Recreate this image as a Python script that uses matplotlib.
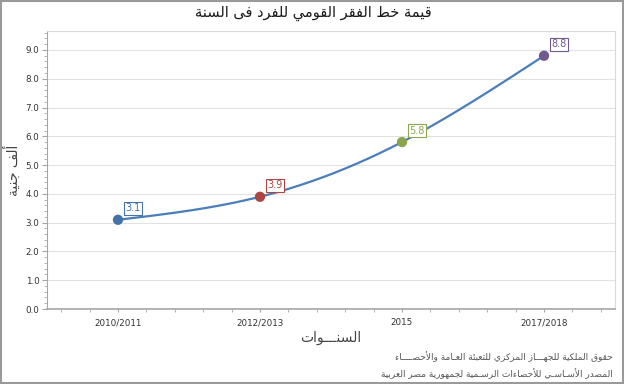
import numpy as np
import matplotlib
matplotlib.use('Agg')
import matplotlib.pyplot as plt
from matplotlib.patches import Rectangle
from matplotlib.ticker import MultipleLocator, FormatStrFormatter

# بيانات الرسم
years = ['2010/2011', '2012/2013', '2015', '2017/2018']
values = [3.1, 3.9, 5.8, 8.8]
point_colors = ['#4572a7', '#aa4643', '#89a54e', '#71588f']

title = 'قيمة خط الفقر القومي للفرد فى السنة'
y_title = 'ألف جنية'
x_title = 'السنـــوات'
footer = ['حقوق الملكية للجهـــاز المركزي للتعبئة العـامة والأحصــــاء',
          'المصدر الأسـاسـي للأحصاءات الرسـمية لجمهورية مصر العربية']

# matplotlib does not shape Arabic, so letters are joined by hand
# letter: (first presentation form, number of forms)
FORMS = {
    'ء': (0xFE80, 1), 'آ': (0xFE81, 2), 'أ': (0xFE83, 2), 'ؤ': (0xFE85, 2),
    'إ': (0xFE87, 2), 'ئ': (0xFE89, 4), 'ا': (0xFE8D, 2), 'ب': (0xFE8F, 4),
    'ة': (0xFE93, 2), 'ت': (0xFE95, 4), 'ث': (0xFE99, 4), 'ج': (0xFE9D, 4),
    'ح': (0xFEA1, 4), 'خ': (0xFEA5, 4), 'د': (0xFEA9, 2), 'ذ': (0xFEAB, 2),
    'ر': (0xFEAD, 2), 'ز': (0xFEAF, 2), 'س': (0xFEB1, 4), 'ش': (0xFEB5, 4),
    'ص': (0xFEB9, 4), 'ض': (0xFEBD, 4), 'ط': (0xFEC1, 4), 'ظ': (0xFEC5, 4),
    'ع': (0xFEC9, 4), 'غ': (0xFECD, 4), 'ف': (0xFED1, 4), 'ق': (0xFED5, 4),
    'ك': (0xFED9, 4), 'ل': (0xFEDD, 4), 'م': (0xFEE1, 4), 'ن': (0xFEE5, 4),
    'ه': (0xFEE9, 4), 'و': (0xFEED, 2), 'ى': (0xFEEF, 2), 'ي': (0xFEF1, 4),
}
LAM_ALEF = {'آ': 0xFEF5, 'أ': 0xFEF7, 'إ': 0xFEF9, 'ا': 0xFEFB}
TATWEEL = 'ـ'


def arabic(text):
    out = []
    prev_joins = False
    i = 0
    while i < len(text):
        c = text[i]
        nxt = text[i + 1] if i + 1 < len(text) else ''
        if c == 'ل' and nxt in LAM_ALEF:
            out.append(chr(LAM_ALEF[nxt] + (1 if prev_joins else 0)))
            prev_joins = False
            i += 2
            continue
        if c == TATWEEL:
            out.append(c)
            prev_joins = True
        elif c in FORMS:
            base, n = FORMS[c]
            next_joins = nxt in FORMS or nxt == TATWEEL
            if n == 4 and prev_joins and next_joins:
                form = 3
            elif n == 4 and next_joins:
                form = 2
            elif prev_joins and n > 1:
                form = 1
            else:
                form = 0
            out.append(chr(base + form))
            prev_joins = n == 4
        else:
            out.append(c)
            prev_joins = False
        i += 1
    return ''.join(reversed(out))


def natural_spline(x, y, num=300):
    x = np.asarray(x, float)
    y = np.asarray(y, float)
    n = len(x)
    h = np.diff(x)
    A = np.zeros((n, n))
    r = np.zeros(n)
    A[0, 0] = A[-1, -1] = 1
    for i in range(1, n - 1):
        A[i, i - 1] = h[i - 1]
        A[i, i] = 2 * (h[i - 1] + h[i])
        A[i, i + 1] = h[i]
        r[i] = 6 * ((y[i + 1] - y[i]) / h[i] - (y[i] - y[i - 1]) / h[i - 1])
    M = np.linalg.solve(A, r)
    xs = np.linspace(x[0], x[-1], num)
    k = np.clip(np.searchsorted(x, xs) - 1, 0, n - 2)
    hk = x[k + 1] - x[k]
    a = (x[k + 1] - xs) / hk
    b = (xs - x[k]) / hk
    ys = a * y[k] + b * y[k + 1] + ((a**3 - a) * M[k] + (b**3 - b) * M[k + 1]) * hk**2 / 6
    return xs, ys


fig = plt.figure(figsize=(6.24, 3.84), dpi=100)
ax = fig.add_axes([0.0753, 0.1953, 0.9103, 0.724])

pos = np.arange(len(years))
xs, ys = natural_spline(pos, values)
ax.plot(xs, ys, color='#4a7ebb', lw=1.6, zorder=3)
ax.scatter(pos, values, s=55, c=point_colors, zorder=4, linewidths=0)

for i, v in enumerate(values):
    ax.annotate(f'{v:.1f}', (pos[i], v), xytext=(7.5, 6.5), textcoords='offset pixels',
                ha='left', va='bottom', fontsize=7, color=point_colors[i], zorder=5,
                bbox=dict(boxstyle='square,pad=0.16', fc='white', ec=point_colors[i], lw=0.8))

ax.set_xlim(-0.5, 3.5)
ax.set_ylim(0, 9.66)
ax.set_xticks(pos)
ax.set_xticklabels(years)
ax.xaxis.set_minor_locator(MultipleLocator(0.2))
ax.yaxis.set_major_locator(MultipleLocator(1))
ax.yaxis.set_minor_locator(MultipleLocator(0.2))
ax.yaxis.set_major_formatter(FormatStrFormatter('%.1f'))

ax.grid(axis='y', which='major', color='#e2e2e2', lw=0.8)
ax.set_axisbelow(True)

for side in ['top', 'right']:
    ax.spines[side].set_color('#d9d9d9')
    ax.spines[side].set_linewidth(0.8)
ax.spines['left'].set_color('#a6a6a6')
ax.spines['bottom'].set_color('#a6a6a6')
ax.spines['bottom'].set_linewidth(1.2)

ax.tick_params(axis='x', which='both', length=2.5, color='#a6a6a6', labelsize=6.3,
               labelcolor='#333333', pad=4)
ax.tick_params(axis='y', which='major', length=3.5, color='#a6a6a6', labelsize=6.3,
               labelcolor='#333333', pad=2)
ax.tick_params(axis='y', which='minor', length=2, color='#a6a6a6')

fig.text(0.502, 0.966, arabic(title), ha='center', va='center', fontsize=10.5, color='#1a1a1a')
fig.text(0.02, 0.557, arabic(y_title), ha='center', va='center', rotation=90,
         fontsize=10, color='#444444')
fig.text(0.53, 0.12, arabic(x_title), ha='center', va='center', fontsize=10, color='#444444')
fig.text(0.982, 0.07, arabic(footer[0]), ha='right', va='center', fontsize=6.5, color='#555555')
fig.text(0.982, 0.028, arabic(footer[1]), ha='right', va='center', fontsize=6.5, color='#555555')

fig.patches.append(Rectangle((0.001, 0.002), 0.997, 0.996, transform=fig.transFigure,
                             fill=False, ec='#9a9a9a', lw=1.5))

fig.savefig('out.png', dpi=100)
